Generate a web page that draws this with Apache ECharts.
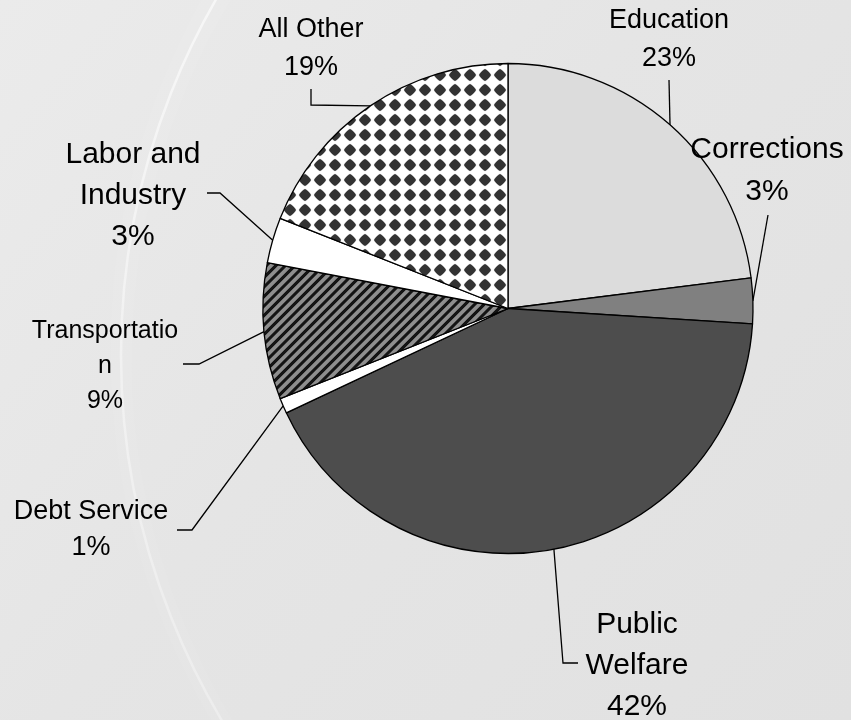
<!DOCTYPE html>
<html>
<head>
<meta charset="utf-8">
<script src="https://cdn.jsdelivr.net/npm/echarts@6/dist/echarts.min.js"></script>
<style>
  html, body { margin: 0; padding: 0; background: #e5e5e5; }
  #chart { width: 851px; height: 720px; }
</style>
</head>
<body>
<div id="chart"></div>
<script>
// Spending shares by function, clockwise from 12 o'clock
const categories = ['Education', 'Corrections', 'Public Welfare', 'Debt Service',
                    'Transportation', 'Labor and Industry', 'All Other'];
const shares = [23, 3, 42, 1, 9, 3, 19];
// Label text as wrapped on the chart
const labelNames = ['Education', 'Corrections', 'Public\nWelfare', 'Debt Service',
                    'Transportatio\nn', 'Labor and\nIndustry', 'All Other'];

// ---- fill patterns -------------------------------------------------------
function makeTile(size, shade) {
  const c = document.createElement('canvas');
  c.width = size; c.height = size;
  const ctx = c.getContext('2d');
  const img = ctx.createImageData(size, size);
  for (let j = 0; j < size; j++) {
    for (let i = 0; i < size; i++) {
      const v = shade(i + 0.5, j + 0.5);
      const k = (j * size + i) * 4;
      img.data[k] = img.data[k + 1] = img.data[k + 2] = v;
      img.data[k + 3] = 255;
    }
  }
  ctx.putImageData(img, 0, 0);
  return c;
}
function mix(a, b, t) { t = Math.max(0, Math.min(1, t)); return Math.round(a + (b - a) * t); }
function wrap(v, p) { return ((v % p) + p * 1.5) % p - p / 2; }

// upward diagonal stripes, black on grey
const stripeTile = makeTile(19, (x, y) => {
  const p = 9.5;
  const d = (x + y) % p;
  const t = Math.min(d, p - d);
  return mix(20, 142, (t - 1.5) / 1.3);
});
// dark rounded diamonds on white
const diamondTile = makeTile(15, (x, y) => {
  const dx = Math.abs(wrap(x - 5, 15));
  const dy = Math.abs(wrap(y, 15));
  const m = 0.75 * (dx + dy) + 0.25 * Math.SQRT2 * Math.hypot(dx, dy);
  return mix(51, 255, (m - 6.1) / 1.5);
});

const fills = [
  '#dcdcdc',
  '#808080',
  '#4d4d4d',
  '#ffffff',
  { image: stripeTile, repeat: 'repeat' },
  '#ffffff',
  { image: diamondTile, repeat: 'repeat' }
];

// ---- label placement (text centre, font, leader-line bends) -------------
const labelFont = [27, 30, 30, 27, 25, 30, 27];
const labelLead = [38, 42, 41, 36, 35, 41, 38];
const labelAt = [[669, 39.5], [767, 170.5], [637, 666], [91, 530], [105, 366], [133, 195.5], [311, 48.5]];
const leaderBends = [
  [[669, 80]],
  [[768, 215]],
  [[563, 663], [578, 663]],
  [[192, 530], [177, 530]],
  [[199, 364], [183, 364]],
  [[220, 193], [207, 193]],
  [[311, 105], [311, 89]]
];

const chart = echarts.init(document.getElementById('chart'), null, { renderer: 'canvas' });

const seriesData = categories.map((name, i) => ({
  name: name,
  value: shares[i],
  itemStyle: { color: fills[i] },
  label: { fontSize: labelFont[i], lineHeight: labelLead[i] }
}));

chart.setOption({
  animation: false,
  graphic: {
    elements: [
      {
        type: 'rect', z: -10, silent: true,
        shape: { x: 0, y: 0, width: 851, height: 720 },
        style: {
          fill: new echarts.graphic.LinearGradient(0, 0, 1, 1, [
            { offset: 0, color: '#ebebeb' },
            { offset: 0.45, color: '#e5e5e5' },
            { offset: 1, color: '#e1e1e1' }
          ])
        }
      },
      {
        // soft light sweep across the left side
        type: 'circle', z: -9, silent: true,
        shape: { cx: 833, cy: 355, r: 712 },
        style: {
          fill: 'transparent',
          stroke: new echarts.graphic.LinearGradient(0, 0, 0, 720, [
            { offset: 0, color: 'rgba(255,255,255,0.6)' },
            { offset: 0.5, color: 'rgba(255,255,255,0.4)' },
            { offset: 1, color: 'rgba(255,255,255,0.3)' }
          ], true),
          lineWidth: 2.5,
          shadowBlur: 18,
          shadowColor: 'rgba(255,255,255,0.9)'
        }
      }
    ]
  },
  series: [{
    type: 'pie',
    center: [508, 308.5],
    radius: 245,
    startAngle: 90,
    clockwise: true,
    avoidLabelOverlap: false,
    silent: true,
    emphasis: { disabled: true },
    itemStyle: { borderColor: '#000', borderWidth: 1.3 },
    label: {
      show: true,
      position: 'outside',
      color: '#000',
      fontFamily: '"Liberation Sans", Arial, sans-serif',
      align: 'center',
      formatter: p => labelNames[p.dataIndex] + '\n' + p.value + '%'
    },
    labelLine: {
      show: true,
      length: 10,
      length2: 10,
      lineStyle: { color: '#000', width: 1.3 }
    },
    labelLayout: function (params) {
      const i = params.dataIndex;
      const start = params.labelLinePoints ? params.labelLinePoints[0] : null;
      const pts = start ? [start].concat(leaderBends[i]) : null;
      if (pts && pts.length === 2) pts.push(pts[1]);
      return {
        x: labelAt[i][0],
        y: labelAt[i][1],
        align: 'center',
        verticalAlign: 'middle',
        labelLinePoints: pts
      };
    },
    data: seriesData
  }]
});
</script>
</body>
</html>
